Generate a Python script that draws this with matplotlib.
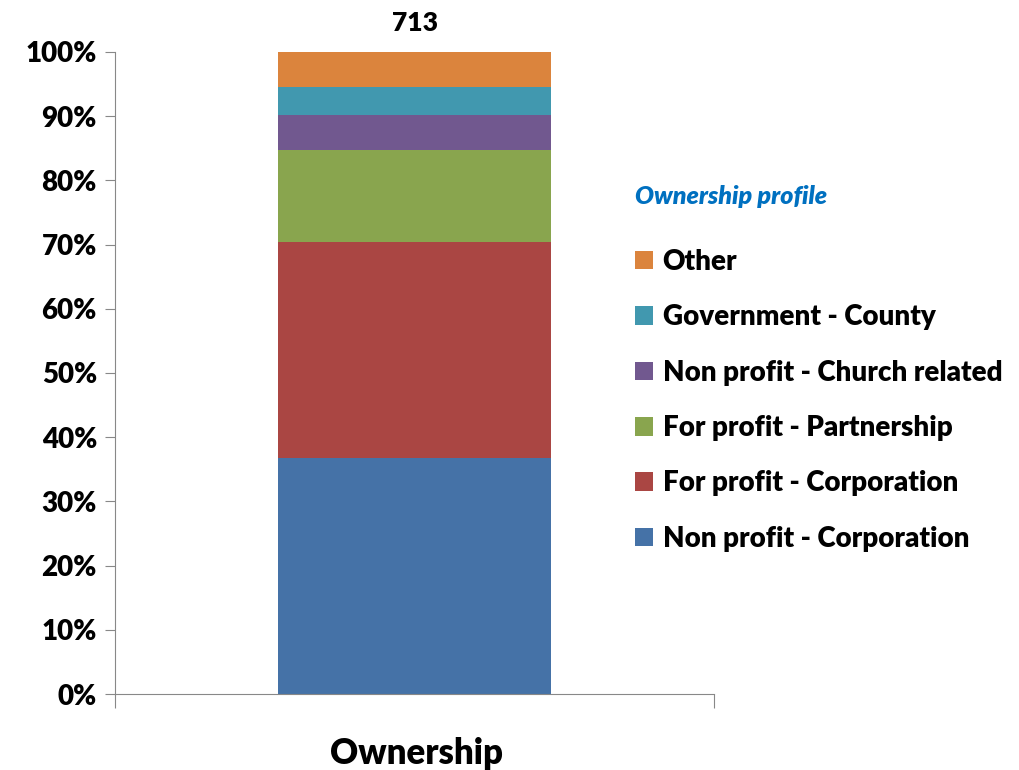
import matplotlib
matplotlib.use("Agg")
import matplotlib.pyplot as plt
from matplotlib.ticker import FuncFormatter

plt.rcParams['font.family'] = ['Lato', 'DejaVu Sans']

# data (share of 713 facilities, bottom to top)
categories = ["Non profit - Corporation", "For profit - Corporation",
              "For profit - Partnership", "Non profit - Church related",
              "Government - County", "Other"]
shares = [36.7, 33.7, 14.3, 5.5, 4.3, 5.5]
colors = ["#4572A7", "#AA4643", "#89A54E", "#71588F", "#4198AF", "#DB843D"]
total_n = "713"
bar_label = "Ownership"

W = 'heavy'

fig = plt.figure(figsize=(10.19, 7.7), dpi=100)
ax = fig.add_axes([0.1129, 0.0987, 0.5878, 0.8338])

bottom = 0
handles = []
for cat, val, col in zip(categories, shares, colors):
    h = ax.bar(0, val, width=0.457, bottom=bottom, color=col, label=cat)
    handles.append(h)
    bottom += val

ax.set_xlim(-0.5, 0.5)
ax.set_ylim(0, 100)
ax.set_yticks(range(0, 101, 10))
ax.yaxis.set_major_formatter(FuncFormatter(lambda v, p: "%d%%" % v))
ax.set_xticks([-0.5, 0.5])
ax.set_xticklabels([])
ax.tick_params(axis='x', direction='out', length=10, color='#888888')
ax.tick_params(axis='y', direction='out', length=7, color='#888888',
               labelsize=20, pad=6)
for lbl in ax.get_yticklabels():
    lbl.set_fontweight(W)

for s in ['top', 'right']:
    ax.spines[s].set_visible(False)
for s in ['left', 'bottom']:
    ax.spines[s].set_color('#888888')

ax.text(0, 102.6, total_n, ha='center', va='bottom', fontsize=19,
        fontweight=W)
fig.text(0.4085, 0.0, bar_label, ha='center', va='bottom', fontsize=25,
         fontweight=W)

leg = fig.legend(handles[::-1], categories[::-1],
                 loc='upper left', bbox_to_anchor=(0.612, 0.7736),
                 frameon=False, prop={'size': 20, 'weight': W},
                 handlelength=0.65, handleheight=0.65, handletextpad=0.35,
                 labelspacing=1.06, title="Ownership profile",
                 alignment='left', borderaxespad=0)
leg.get_title().set_fontsize(18)
leg.get_title().set_fontstyle('italic')
leg.get_title().set_fontweight(W)
leg.get_title().set_color('#0070C0')
leg._legend_box.sep = 29

fig.savefig("out.png", dpi=100)
